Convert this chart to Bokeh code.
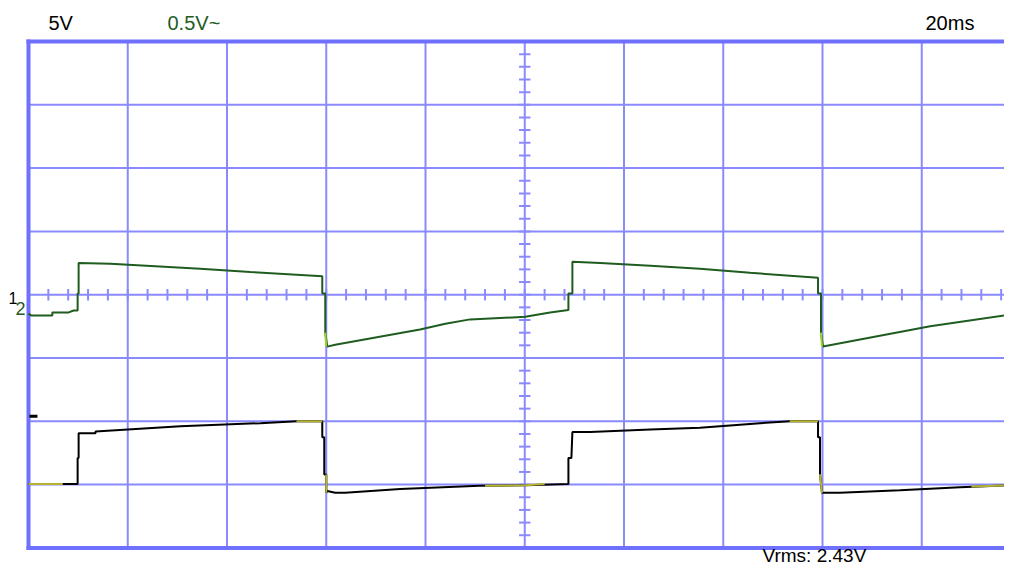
from bokeh.plotting import figure
from bokeh.models import Range1d
from bokeh.core.properties import value
from bokeh.embed import file_html
from bokeh.resources import INLINE
import numpy as np

# ---- data (time in ms, amplitude in screen divisions) ----
ch2_t = [0.0, 0.6, 4.8, 4.8, 8.1, 9.1, 9.9, 9.9, 10.1, 10.1, 16.5, 34.6, 44.7, 59.2, 59.2, 59.8, 59.8,
         60.2, 61.8, 78.9, 84.0, 89.0, 100.1, 105.1, 108.8, 108.8, 109.6, 109.6, 115.2, 125.3, 135.3, 145.4,
         159.1, 159.1, 159.7, 159.7, 160.1, 181.7, 198.2]
ch2_v = [-0.30, -0.33, -0.33, -0.28, -0.28, -0.25, -0.25, 0.02, 0.02, 0.50, 0.49, 0.41, 0.36, 0.29, 0.02, 0.02, -0.60,
         -0.82, -0.79, -0.55, -0.46, -0.39, -0.35, -0.28, -0.24, 0.02, 0.02, 0.52, 0.50, 0.457, 0.41, 0.346,
         0.268, 0.02, 0.02, -0.60, -0.82, -0.50, -0.31]

ch1_t = [0.0, 6.9, 9.9, 9.9, 10.1, 10.1, 13.5, 13.5, 30.6, 46.7, 54.0, 59.2, 59.2, 59.6, 59.6, 60.0, 60.0,
         60.2, 61.8, 63.8, 74.9, 90.9, 100.1, 108.8, 108.8, 109.4, 109.6, 113.2, 125.3, 135.3, 147.4,
         153.4, 159.1, 159.1, 159.5, 159.5, 159.9, 163.5, 175.6, 187.7, 198.2]
ch1_v = [-2.99, -2.99, -2.99, -2.58, -2.58, -2.19, -2.19, -2.16, -2.08, -2.03, -2.0, -2.0, -2.25, -2.25, -2.84, -2.84, -3.13,
         -3.10, -3.13, -3.13, -3.07, -3.02, -3.01, -2.99, -2.58, -2.58, -2.17, -2.17, -2.13, -2.10, -2.03,
         -2.0, -2.0, -2.25, -2.25, -2.84, -3.13, -3.13, -3.09, -3.04, -3.01]

# highlighted (yellow) pieces of channel 1, and light-green pieces of channel 2
ch1_hl = [([0.0, 6.9], [-2.99, -2.99]), ([54.0, 59.2], [-2.0, -2.0]), ([60.0, 60.0], [-2.84, -3.13]),
          ([92.0, 100.1, 104.0], [-3.02, -3.01, -2.99]), ([153.4, 159.1], [-2.0, -2.0]),
          ([159.5, 159.9], [-2.84, -3.13]), ([190.0, 198.2], [-3.03, -3.01])]
ch2_hl = [([59.8, 60.0], [-0.60, -0.82]), ([159.7, 159.9], [-0.60, -0.82])]

trig_marker = ([0.2, 1.8], [-1.92, -1.92])

ch1_scale = "5V"
ch2_scale = "0.5V~"
time_scale = "20ms"
meas_text = "Vrms: 2.43V"

N_XDIV = 10
N_YDIV = 8
DIV_T = 20.0

# ---- geometry of the screen ----
W, H = 1004, 567
LEFT_PX, TOP_PX = 28, 41
PX_PER_DIV_X, PX_PER_DIV_Y = 99.25, 63.3
px_per_ms = PX_PER_DIV_X / DIV_T
x0 = -LEFT_PX / px_per_ms
x1 = (W - LEFT_PX) / px_per_ms
y1 = N_YDIV / 2 + TOP_PX / PX_PER_DIV_Y
y0 = N_YDIV / 2 - (H - TOP_PX) / PX_PER_DIV_Y

GRID = "#8a8aff"
BORDER = "#7070ff"
GREEN = "#1f5c1f"
YELLOW = "#b4b430"
LIME = "#9ad22a"

p = figure(width=W, height=H, output_backend="svg", toolbar_location=None,
           x_range=Range1d(x0, x1), y_range=Range1d(y0, y1),
           min_border=0)
p.axis.visible = False
p.grid.visible = False
p.outline_line_color = None
p.background_fill_color = "white"
p.border_fill_color = "white"

# grid
ymax = N_YDIV / 2
gx = np.arange(1, N_XDIV) * DIV_T
p.segment(x0=gx, y0=-ymax, x1=gx, y1=ymax, line_color=GRID, line_width=2)
gy = np.arange(-ymax + 1, ymax)
p.segment(x0=0, y0=gy, x1=x1 + 5, y1=gy, line_color=GRID, line_width=2)

# centre-line ticks
tx = np.arange(0, x1, DIV_T / 5)
p.segment(x0=tx, y0=-0.09, x1=tx, y1=0.09, line_color=GRID, line_width=2)
ty = np.arange(-ymax, ymax + 0.01, 0.2)
mid_t = N_XDIV / 2 * DIV_T
p.segment(x0=mid_t - 1.15, y0=ty, x1=mid_t + 1.15, y1=ty, line_color=GRID, line_width=2)

# border
p.segment(x0=[0, 0, 0], y0=[-ymax, ymax, -ymax], x1=[0, x1 + 5, x1 + 5], y1=[ymax, ymax, -ymax],
          line_color=BORDER, line_width=4, line_cap="square")

# traces
p.line(ch1_t, ch1_v, line_color="black", line_width=2)
for xs, ys in ch1_hl:
    p.line(xs, ys, line_color=YELLOW, line_width=2)
p.line(ch2_t, ch2_v, line_color=GREEN, line_width=2)
for xs, ys in ch2_hl:
    p.line(xs, ys, line_color=LIME, line_width=2)
p.line(trig_marker[0], trig_marker[1], line_color="black", line_width=3)

FONT = value("Liberation Sans")
TEXT_SHIFT = 8  # svg baseline renders this many px lower

def lab(x_px, base_px, text, color, size="20px"):
    x = (x_px - LEFT_PX) / px_per_ms
    y = ymax - (base_px - TEXT_SHIFT - TOP_PX) / PX_PER_DIV_Y
    p.text(x=[x], y=[y], text=[text], text_color=color, text_font=FONT,
           text_font_size=size, text_align="left", text_baseline="alphabetic")

lab(48, 30, ch1_scale, "black")
lab(167, 30, ch2_scale, GREEN)
lab(925, 30, time_scale, "black")
lab(762, 563, meas_text, "black", size="19px")
lab(8, 305, "1", "black", size="16px")
lab(15, 316, "2", GREEN, size="18px")

open("out.html", "w").write(file_html(p, INLINE))
